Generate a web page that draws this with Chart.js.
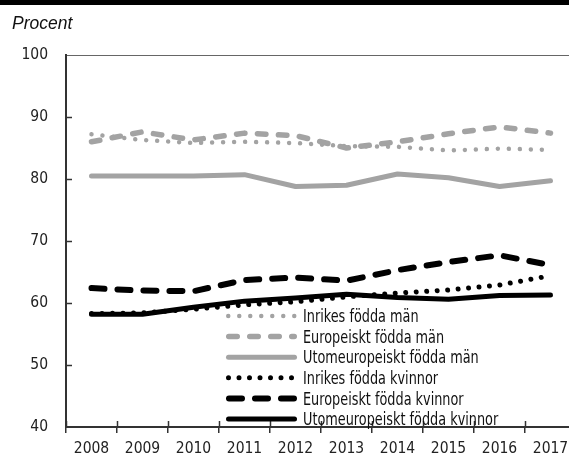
<!DOCTYPE html>
<html>
<head>
<meta charset="utf-8">
<script src="https://cdn.jsdelivr.net/npm/chart.js@4.4.1/dist/chart.umd.min.js"></script>
<style>
  html, body { margin:0; padding:0; background:#fff; overflow:hidden; width:569px; height:457px; }
  #bar { position:absolute; left:0; top:0; width:569px; height:5px; background:#000; }
  #unit { position:absolute; left:12px; top:13px; font-family:"Liberation Sans", Arial, sans-serif; font-style:italic; font-size:17.5px; color:#111; line-height:normal; }
  #wrap { position:absolute; left:0; top:0; width:580px; height:457px; }
</style>
</head>
<body>
<div id="wrap"><canvas id="c"></canvas></div>
<div id="bar"></div>
<div id="unit">Procent</div>
<script>
const years = ['2008','2009','2010','2011','2012','2013','2014','2015','2016','2017'];
const yTicks = [40, 50, 60, 70, 80, 90, 100];
const seriesNames = [
  'Inrikes födda män',
  'Europeiskt födda män',
  'Utomeuropeiskt födda män',
  'Inrikes födda kvinnor',
  'Europeiskt födda kvinnor',
  'Utomeuropeiskt födda kvinnor'
];
const inrikesMan            = [87.2, 86.3, 85.8, 86.0, 85.8, 85.3, 85.2, 84.6, 84.9, 84.7];
const europeisktMan         = [86.0, 87.6, 86.3, 87.4, 87.0, 85.0, 86.0, 87.3, 88.4, 87.4];
const utomeuropeisktMan     = [80.5, 80.5, 80.5, 80.7, 78.8, 79.0, 80.8, 80.2, 78.8, 79.7];
const inrikesKvinnor        = [58.3, 58.4, 59.0, 59.7, 60.2, 61.0, 61.6, 62.1, 62.9, 64.4];
const europeisktKvinnor     = [62.4, 62.0, 61.9, 63.7, 64.1, 63.6, 65.3, 66.6, 67.7, 66.1];
const utomeuropeisktKvinnor = [58.2, 58.2, 59.3, 60.3, 60.8, 61.4, 60.9, 60.6, 61.2, 61.3];

const GRAY = '#a3a3a3';
const BLACK = '#000000';
const FONT = '"Liberation Sans Narrow", "Arial Narrow", "DejaVu Sans Condensed", sans-serif';

const styles = [
  { color: GRAY,  width: 4.5, dash: [0.001, 11] },
  { color: GRAY,  width: 5.5, dash: [8.5, 12.5] },
  { color: GRAY,  width: 5,   dash: [] },
  { color: BLACK, width: 5,   dash: [0.001, 10.5] },
  { color: BLACK, width: 6,   dash: [13, 13] },
  { color: BLACK, width: 5,   dash: [] }
];
const values = [inrikesMan, europeisktMan, utomeuropeisktMan, inrikesKvinnor, europeisktKvinnor, utomeuropeisktKvinnor];

const datasets = values.map((v, i) => ({
  label: seriesNames[i],
  data: v,
  borderColor: styles[i].color,
  backgroundColor: styles[i].color,
  borderWidth: styles[i].width,
  borderDash: styles[i].dash,
  borderCapStyle: 'round',
  borderJoinStyle: 'round',
  pointRadius: 0,
  tension: 0,
  fill: false,
  order: values.length - i
}));

const decor = {
  id: 'decor',
  afterDraw(chart) {
    const { ctx, scales: { x, y }, chartArea: a } = chart;
    ctx.save();
    ctx.strokeStyle = '#333';
    ctx.lineWidth = 1.5;
    ctx.setLineDash([]);
    // inward y ticks
    y.ticks.forEach(t => {
      if (t.value > yTicks[0] && t.value < yTicks[yTicks.length - 1]) {
        const py = Math.round(y.getPixelForValue(t.value)) + 0.5;
        ctx.beginPath(); ctx.moveTo(a.left, py); ctx.lineTo(a.left + 6, py); ctx.stroke();
      }
    });
    // upper half of x ticks (crossing the axis)
    const w = x.getPixelForValue(1) - x.getPixelForValue(0);
    for (let i = 0; i <= years.length; i++) {
      const px = Math.round(x.getPixelForValue(i) - w / 2) + 0.5;
      ctx.beginPath(); ctx.moveTo(px, a.bottom - 6); ctx.lineTo(px, a.bottom); ctx.stroke();
    }
    // legend
    const lx0 = 226, lx1 = 297, tx = 303, ry0 = 316, rdy = 20.6;
    chart.data.datasets.forEach((ds, i) => {
      const cy = ry0 + i * rdy;
      ctx.strokeStyle = ds.borderColor;
      ctx.lineWidth = ds.borderWidth;
      ctx.lineCap = 'round';
      ctx.setLineDash(ds.borderDash || []);
      ctx.beginPath();
      ctx.moveTo(lx0 + ds.borderWidth / 2, cy);
      ctx.lineTo(lx1 - ds.borderWidth / 2, cy);
      ctx.stroke();
      ctx.setLineDash([]);
      ctx.save();
      ctx.fillStyle = '#111';
      ctx.font = '17px ' + FONT;
      ctx.textAlign = 'left';
      ctx.textBaseline = 'alphabetic';
      ctx.translate(tx, cy + 6.2);
      ctx.scale(0.84, 1);
      ctx.fillText(ds.label, 0, 0);
      ctx.restore();
    });
    ctx.restore();
  }
};

new Chart(document.getElementById('c'), {
  type: 'line',
  data: { labels: years, datasets },
  options: {
    responsive: true,
    maintainAspectRatio: false,
    animation: false,
    layout: { padding: { left: 0, right: 4, top: 55, bottom: 0 } },
    plugins: { legend: { display: false }, tooltip: { enabled: false }, title: { display: false } },
    scales: {
      x: {
        type: 'category',
        offset: true,
        grid: { offset: true, drawOnChartArea: false, drawTicks: true, tickLength: 6, color: '#333', lineWidth: 1.5 },
        border: { display: true, color: '#333', width: 2 },
        ticks: { color: '#222', font: { family: FONT, size: 15.5 }, padding: 7, autoSkip: false, maxRotation: 0 },
        afterFit(s) { s.height = 30; }
      },
      y: {
        min: 40, max: 100,
        afterBuildTicks(s) { s.ticks = yTicks.map(v => ({ value: v })); },
        grid: {
          drawTicks: false,
          color: ctx => (ctx.tick && ctx.tick.value === 100) ? '#666' : 'rgba(0,0,0,0)',
          lineWidth: 1
        },
        border: { display: true, color: '#333', width: 2 },
        ticks: { color: '#222', font: { family: FONT, size: 15.5 }, padding: 18 },
        afterFit(s) { s.width = 66; }
      }
    }
  },
  plugins: [decor]
});
</script>
</body>
</html>
